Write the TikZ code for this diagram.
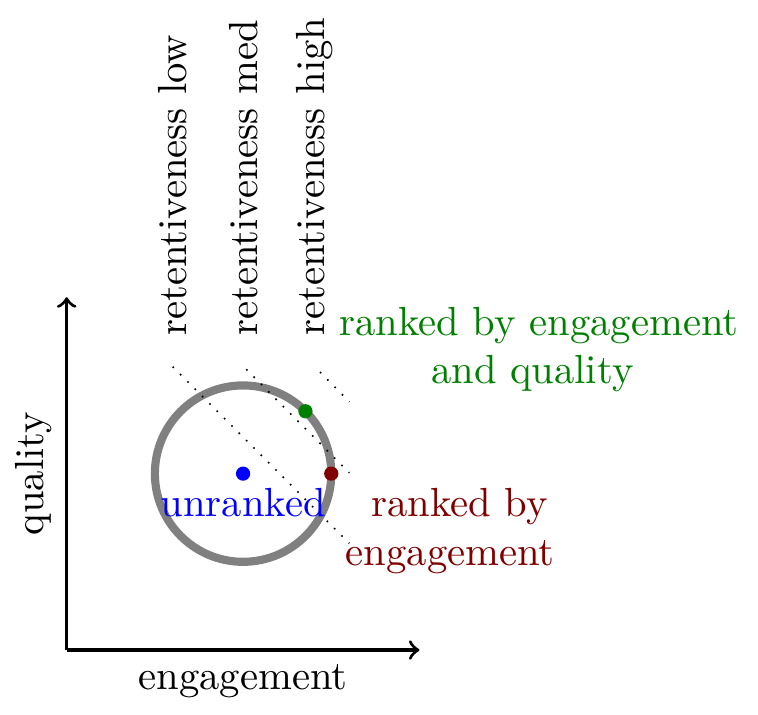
\documentclass[tikz,border=0pt]{standalone}
\usetikzlibrary{calc}
\begin{document}
\begin{tikzpicture}[x=0.762cm, y=0.762cm,
  axis/.style={thick,->},
  guide/.style={dash pattern=on 0.4pt off 2.15pt, line width=0.4pt},
  dotnode/.style={circle, inner sep=0pt, minimum size=3.5pt},
  rlabel/.style={rotate=90, anchor=west}]
\useasboundingbox (-0.756,-0.726) rectangle (7.838,7.370);
% axes
\coordinate (O) at (0,0);
\coordinate (X) at (4,0);
\coordinate (Y) at (0,4);
\draw[axis] (O) -- (X);
\draw[axis] (O) -- (Y);
\node[below] (xl) at (2,0) {engagement};
\node[above, rotate=90] (yl) at (0,2) {quality};
% circle
\coordinate (C) at (2,2);
\draw[gray, line width=2pt] (C) circle (1);
% guide lines
\coordinate (a1) at (1.202,3.212); \coordinate (b1) at (3.204,1.210);
\coordinate (a2) at (2.036,3.183); \coordinate (b2) at (3.204,2.010);
\coordinate (a3) at (2.872,3.152); \coordinate (b3) at (3.204,2.815);
\draw[guide] (a1) -- (b1);
\draw[guide] (a2) -- (b2);
\draw[guide] (a3) -- (b3);
\node[rlabel] (rlow) at (1.20,3.40) {retentiveness low};
\node[rlabel] (rmed) at (2.01,3.40) {retentiveness med};
\node[rlabel] (rhigh) at (2.81,3.40) {retentiveness high};
% points
\node[dotnode, fill=blue] (u) at (C) {};
\node[dotnode, fill=green!50!black] (g) at ($(C)+(45:1)$) {};
\node[dotnode, fill=red!50!black] (r) at (3,2) {};
\node[below, text=blue] (ul) at (u.center) {unranked};
\node[below right, align=center, text=red!50!black] (rl) at (r.center) {\hspace*{4.6pt}ranked by\\engagement};
\node[anchor=north, align=center, text=green!50!black] (gl) at (5.355,4.053) {ranked by engagement\\and quality\hspace*{3.3pt}};
\end{tikzpicture}
\end{document}
